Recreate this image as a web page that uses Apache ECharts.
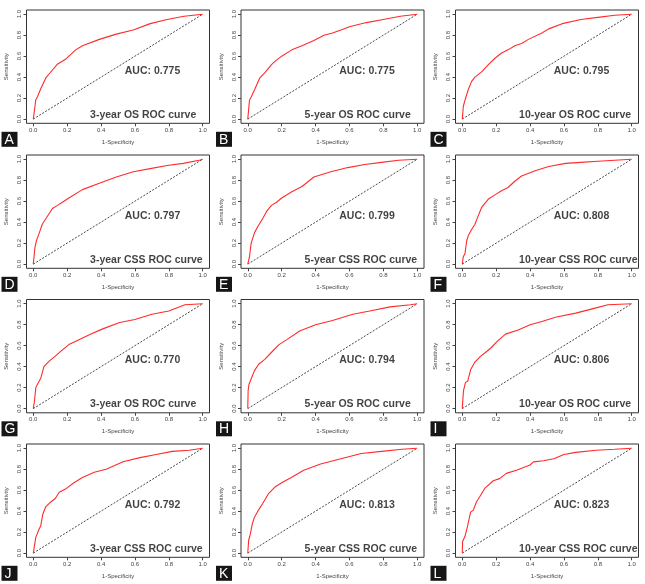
<!DOCTYPE html>
<html>
<head>
<meta charset="utf-8">
<script src="https://cdn.jsdelivr.net/npm/echarts@6/dist/echarts.min.js"></script>
<style>html,body{margin:0;padding:0;background:#fff}#c{width:645px;height:584px}</style>
</head>
<body>
<div id="c"></div>
<script>
// ---- data (1-Specificity, Sensitivity) ----
const rocA = [[0,0],[0.01,0.12],[0.014,0.18],[0.024,0.21],[0.044,0.29],[0.073,0.39],[0.093,0.43],[0.14,0.52],[0.19,0.57],[0.25,0.66],[0.29,0.70],[0.39,0.76],[0.49,0.81],[0.59,0.85],[0.69,0.91],[0.79,0.95],[0.89,0.98],[1,1]];
const rocB = [[0,0],[0.01,0.18],[0.02,0.21],[0.04,0.28],[0.07,0.39],[0.10,0.44],[0.14,0.52],[0.16,0.55],[0.20,0.60],[0.26,0.66],[0.32,0.70],[0.39,0.75],[0.45,0.80],[0.5,0.82],[0.55,0.85],[0.6,0.88],[0.7,0.92],[0.8,0.95],[0.9,0.98],[1,1]];
const rocC = [[0,0],[0.006,0.12],[0.016,0.18],[0.035,0.28],[0.055,0.36],[0.075,0.40],[0.114,0.45],[0.154,0.52],[0.193,0.58],[0.232,0.63],[0.27,0.66],[0.31,0.70],[0.35,0.72],[0.39,0.76],[0.47,0.82],[0.51,0.86],[0.59,0.91],[0.70,0.95],[0.80,0.97],[0.9,0.99],[1,1]];
const rocD = [[0,0],[0.01,0.16],[0.018,0.22],[0.034,0.29],[0.053,0.38],[0.073,0.43],[0.093,0.48],[0.113,0.53],[0.143,0.56],[0.172,0.59],[0.21,0.63],[0.29,0.71],[0.39,0.77],[0.49,0.83],[0.59,0.88],[0.69,0.91],[0.79,0.94],[0.885,0.96],[0.98,0.99],[1,1]];
const rocE = [[0,0],[0.01,0.07],[0.02,0.20],[0.04,0.30],[0.06,0.36],[0.09,0.44],[0.11,0.50],[0.14,0.56],[0.17,0.59],[0.20,0.63],[0.26,0.69],[0.32,0.74],[0.39,0.83],[0.49,0.88],[0.59,0.92],[0.69,0.95],[0.79,0.97],[0.89,0.99],[1,1]];
const rocF = [[0,0],[0.006,0.07],[0.016,0.10],[0.026,0.22],[0.035,0.27],[0.055,0.33],[0.075,0.38],[0.094,0.46],[0.114,0.54],[0.154,0.62],[0.193,0.66],[0.232,0.70],[0.27,0.73],[0.31,0.79],[0.35,0.84],[0.43,0.89],[0.51,0.93],[0.61,0.96],[0.70,0.97],[0.80,0.98],[1,1]];
const rocG = [[0,0],[0.007,0.07],[0.015,0.20],[0.024,0.23],[0.044,0.29],[0.063,0.40],[0.092,0.45],[0.13,0.50],[0.165,0.55],[0.21,0.61],[0.26,0.65],[0.34,0.71],[0.41,0.76],[0.51,0.82],[0.60,0.85],[0.70,0.90],[0.80,0.93],[0.895,0.99],[1,1]];
const rocH = [[0,0],[0.002,0.17],[0.007,0.23],[0.019,0.28],[0.039,0.36],[0.063,0.42],[0.10,0.47],[0.136,0.53],[0.184,0.61],[0.233,0.66],[0.306,0.74],[0.40,0.80],[0.50,0.84],[0.62,0.90],[0.72,0.93],[0.84,0.97],[0.96,0.99],[1,1]];
const rocI = [[0,0],[0.007,0.17],[0.019,0.25],[0.032,0.26],[0.049,0.37],[0.073,0.44],[0.109,0.50],[0.133,0.53],[0.17,0.58],[0.206,0.64],[0.255,0.71],[0.33,0.75],[0.40,0.80],[0.47,0.83],[0.55,0.87],[0.67,0.91],[0.79,0.96],[0.86,0.99],[1,1]];
const rocJ = [[0,0],[0.015,0.15],[0.032,0.22],[0.044,0.26],[0.056,0.37],[0.073,0.44],[0.105,0.49],[0.13,0.52],[0.153,0.58],[0.19,0.61],[0.24,0.67],[0.29,0.72],[0.36,0.77],[0.43,0.80],[0.53,0.87],[0.63,0.91],[0.725,0.94],[0.82,0.97],[0.92,0.98],[1,1]];
const rocK = [[0,0],[0.005,0.12],[0.015,0.18],[0.027,0.28],[0.039,0.34],[0.063,0.41],[0.087,0.47],[0.124,0.57],[0.16,0.63],[0.21,0.68],[0.257,0.72],[0.33,0.79],[0.43,0.85],[0.55,0.90],[0.67,0.95],[0.79,0.97],[0.91,0.99],[1,1]];
const rocL = [[0,0],[0.002,0.11],[0.016,0.16],[0.03,0.25],[0.041,0.33],[0.049,0.39],[0.065,0.41],[0.084,0.49],[0.104,0.54],[0.134,0.62],[0.183,0.69],[0.22,0.71],[0.26,0.76],[0.32,0.79],[0.40,0.84],[0.42,0.87],[0.48,0.88],[0.54,0.90],[0.60,0.94],[0.67,0.96],[0.79,0.98],[0.90,0.99],[1,1]];
const diagonal = [[0,0],[1,1]];

const rocCurves = [rocA,rocB,rocC,rocD,rocE,rocF,rocG,rocH,rocI,rocJ,rocK,rocL];
const aucValues = ['0.775','0.775','0.795','0.797','0.799','0.808','0.770','0.794','0.806','0.792','0.813','0.823'];
const panelTitles = ['3-year OS ROC curve','5-year OS ROC curve','10-year OS ROC curve',
                     '3-year CSS ROC curve','5-year CSS ROC curve','10-year CSS ROC curve',
                     '3-year OS ROC curve','5-year OS ROC curve','10-year OS ROC curve',
                     '3-year CSS ROC curve','5-year CSS ROC curve','10-year CSS ROC curve'];
const panelLetters = ['A','B','C','D','E','F','G','H','I','J','K','L'];
const tickValues = [0,0.2,0.4,0.6,0.8,1.0];
const xName = '1-Specificity';
const yName = 'Sensitivity';

// ---- layout ----
const colLefts = [26.5, 241, 455.5];
const rowTops = [10, 155, 299.5, 444];
const gw = 183, gh = 113.3;
const FONT = '"Liberation Sans", Arial, sans-serif';

const grids = [], xAxes = [], yAxes = [], series = [], graphics = [];
for (let i = 0; i < 12; i++) {
  const r = Math.floor(i / 3), c = i % 3;
  const left = colLefts[c], top = rowTops[r];
  grids.push({left: left, top: top, width: gw, height: gh, show: true,
    borderColor: '#333', borderWidth: 1, backgroundColor: 'transparent'});
  const axisCommon = {
    type: 'value', gridIndex: i, min: -0.04, max: 1.04,
    axisLine: {show: false, onZero: false},
    splitLine: {show: false},
    axisTick: {show: true, length: 3, customValues: tickValues, lineStyle: {color: '#444', width: 1}},
    axisLabel: {show: true, customValues: tickValues, fontSize: 6, color: '#444', fontFamily: FONT,
      formatter: v => v.toFixed(1)},
    nameLocation: 'middle', nameTextStyle: {fontSize: 6, color: '#444', fontFamily: FONT}
  };
  xAxes.push(Object.assign({}, axisCommon, {name: xName, nameGap: 16,
    axisLabel: Object.assign({}, axisCommon.axisLabel, {margin: 4})}));
  yAxes.push(Object.assign({}, axisCommon, {name: yName, nameGap: 17,
    axisLabel: Object.assign({}, axisCommon.axisLabel, {rotate: 90, margin: 4})}));
  series.push({type: 'line', xAxisIndex: i, yAxisIndex: i, data: diagonal, symbol: 'none', silent: true,
    lineStyle: {color: '#333', width: 0.9, type: [2, 1.5]}, z: 2});
  series.push({type: 'line', xAxisIndex: i, yAxisIndex: i, data: rocCurves[i], symbol: 'none', silent: true,
    lineStyle: {color: '#ff2b2b', width: 1.1}, z: 3});
  series.push({type: 'scatter', xAxisIndex: i, yAxisIndex: i, data: [[0.54, 0.46]], symbolSize: 0, silent: true,
    label: {show: true, position: [0, 0], align: 'left', verticalAlign: 'middle', formatter: 'AUC: ' + aucValues[i],
      fontSize: 10.5, fontWeight: 'bold', color: '#111', fontFamily: FONT}, z: 4});
  series.push({type: 'scatter', xAxisIndex: i, yAxisIndex: i, data: [[0.335, 0.04]], symbolSize: 0, silent: true,
    label: {show: true, position: [0, 0], align: 'left', verticalAlign: 'middle', formatter: panelTitles[i],
      fontSize: 10.5, fontWeight: 'bold', color: '#111', fontFamily: FONT}, z: 4});
  graphics.push({type: 'text', left: left - 25, top: top + gh + 8.5,
    style: {text: panelLetters[i], fill: '#fff', font: '14px ' + FONT,
      backgroundColor: '#161616', padding: [1, 3, 0, 3], width: 10, align: 'center'}});
}

const chart = echarts.init(document.getElementById('c'), null, {renderer: 'canvas'});
chart.setOption({
  animation: false,
  backgroundColor: '#fff',
  grid: grids, xAxis: xAxes, yAxis: yAxes, series: series, graphic: graphics
});
</script>
</body>
</html>
